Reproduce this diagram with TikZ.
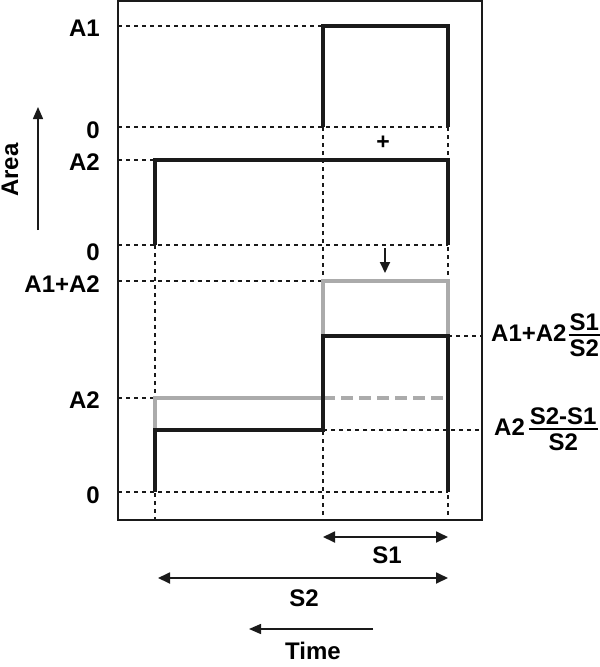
\documentclass[tikz,border=0pt]{standalone}
\usepackage{amsmath}
\usepackage{fontspec}
\setmainfont{Liberation Sans}
\usetikzlibrary{arrows.meta,positioning}
\definecolor{pulseblack}{HTML}{1A1A1A}
\definecolor{pulsegray}{HTML}{ABABAB}
% stacked ratio with a heavy bar
\newcommand{\barfrac}[2]{\ensuremath{\vcenter{\offinterlineskip\halign{\hskip1pt\hfil##\hfil\hskip1pt\cr
  \rule[-4pt]{0pt}{0pt}#1\cr
  \noalign{\hrule height 2pt}
  \rule{0pt}{20pt}#2\cr}}}}
\tikzset{
every picture/.style={line join=miter},
level line/.style={draw=pulseblack, line width=1.6pt, dash pattern=on 4pt off 4pt},
pulse line/.style={draw=pulseblack, line width=4pt},
sum line/.style={draw=pulsegray, line width=4pt},
dim arrow/.style={
  draw=pulseblack,
  line width=1.8pt,
  {Triangle[length=12pt,width=11pt]}-{Triangle[length=12pt,width=11pt]}
},
axis arrow/.style={
  draw=pulseblack,
  line width=1.5pt,
  -{Triangle[length=12pt,width=10pt]}
},
level label/.style={font=\fontsize{24}{26}\selectfont\bfseries, inner sep=0pt},
axis label/.style={font=\fontsize{24}{26}\selectfont\bfseries, inner sep=0pt}
}

\begin{document}
\begin{tikzpicture}[x=1pt,y=-1pt]
\useasboundingbox (0,0) rectangle (600,667);
% time positions
\coordinate (xl) at (118,0);
\coordinate (xa) at (155,0);
\coordinate (xb) at (323,0);
\coordinate (xc) at (448,0);
\coordinate (xr) at (482,0);
% area levels
\coordinate (yA1) at (0,26);
\coordinate (yZ1) at (0,127);
\coordinate (yA2) at (0,160);
\coordinate (yZ2) at (0,245);
\coordinate (ySum) at (0,281);
\coordinate (yRes) at (0,336);
\coordinate (yA2b) at (0,398);
\coordinate (yLow) at (0,430);
\coordinate (yZ3) at (0,492);
\coordinate (ybot) at (0,520);
\draw[line width=2pt, draw=pulseblack] (118,1) rectangle (482,520);
% dotted guides
\draw[level line] (xl|-yA1) -- (xb|-yA1);
\draw[level line] (xl|-yZ1) -- (xc|-yZ1);
\draw[level line] (xl|-yA2) -- (xa|-yA2);
\draw[level line] (xl|-yZ2) -- (xc|-yZ2);
\draw[level line] (xl|-ySum) -- (xb|-ySum);
\draw[level line] (xl|-yA2b) -- (xa|-yA2b);
\draw[level line] (xl|-yZ3) -- (xc|-yZ3);
\draw[level line] (xc|-yRes) -- (xr|-yRes);
\draw[level line] (xb|-yLow) -- (xr|-yLow);
\draw[level line] (xa|-yZ2) -- (xa|-ybot);
\draw[level line] (xb|-yZ1) -- (xb|-ybot);
\draw[level line] (xc|-yZ1) -- (xc|-ybot);
% pulses
\draw[pulse line] (xb|-yZ1) -- (xb|-yA1) -- (xc|-yA1) -- (xc|-yZ1);
\draw[pulse line] (xa|-yZ2) -- (xa|-yA2) -- (xc|-yA2) -- (xc|-yZ2);
\draw[sum line] (xa|-yLow) -- (xa|-yA2b) -- (xb|-yA2b) -- (xb|-ySum) -- (xc|-ySum) -- (xc|-yRes);
\draw[sum line, dash pattern=on 12pt off 6pt] (xb|-yA2b) -- (xc|-yA2b);
\draw[pulse line] (xa|-yZ3) -- (xa|-yLow) -- (xb|-yLow) -- (xb|-yRes) -- (xc|-yRes) -- (xc|-yZ3);
% level labels
\node[level label, anchor=east] (labA1) at (100,28) {A1};
\node[level label, anchor=east] (labZ1) at (100,130) {0};
\node[level label, anchor=east] (labA2) at (100,162) {A2};
\node[level label, anchor=east] (labZ2) at (100,252) {0};
\node[level label, anchor=east] (labSum) at (100,284) {A1+A2};
\node[level label, anchor=east] (labA2b) at (100,400) {A2};
\node[level label, anchor=east] (labZ3) at (100,495) {0};
\node[level label, anchor=west] (labRes) at (491,335) {A1+A2\hspace{2pt}\barfrac{S1}{S2}};
\node[level label, anchor=west] (labLow) at (494,429) {A2\hspace{4pt}\barfrac{S2-S1}{S2}};
% operations
\node[font=\fontsize{23}{25}\selectfont\bfseries, inner sep=0pt] (plus) at (383,143) {+};
\coordinate (downtop) at (385,248);
\coordinate (downend) at (385,273);
\draw[draw=pulseblack, line width=2pt, -{Triangle[length=11pt,width=10pt]}] (downtop) -- (downend);
% axes
\coordinate (areabase) at (38,230);
\coordinate (areatip) at (38,107);
\draw[axis arrow] (areabase) -- (areatip);
\node[axis label, rotate=90] (area) at (10,170) {Area};
\coordinate (s1a) at (323,537);
\coordinate (s1b) at (448,537);
\draw[dim arrow] (s1a) -- (s1b);
\node[axis label] (s1) at (387,555) {S1};
\coordinate (s2a) at (158,578);
\coordinate (s2b) at (448,578);
\draw[dim arrow] (s2a) -- (s2b);
\node[axis label] (s2) at (304,598) {S2};
\coordinate (timebase) at (373,629);
\coordinate (timetip) at (249,629);
\draw[axis arrow] (timebase) -- (timetip);
\node[axis label] (time) at (313,651) {Time};
\end{tikzpicture}
\end{document}
